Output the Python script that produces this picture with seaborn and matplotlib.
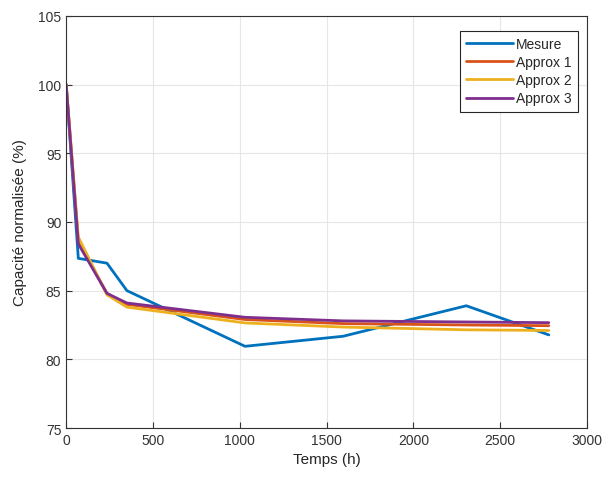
import pandas as pd
import seaborn as sns
import matplotlib.pyplot as plt

temps = [0, 70, 235, 350, 1030, 1595, 2305, 2780]
mesure = [100, 87.35, 87.0, 85.0, 80.95, 81.68, 83.9, 81.78]
approx1 = [100, 88.6, 84.8, 84.0, 82.9, 82.6, 82.5, 82.45]
approx2 = [100, 88.9, 84.7, 83.8, 82.65, 82.35, 82.15, 82.1]
approx3 = [100, 88.4, 84.8, 84.1, 83.06, 82.8, 82.72, 82.67]

series = {"Mesure": mesure, "Approx 1": approx1, "Approx 2": approx2, "Approx 3": approx3}
colors = ["#0072BD", "#D95319", "#EDB120", "#7E2F8E"]

df = pd.concat([pd.DataFrame({"Temps": temps, "val": v, "serie": k}) for k, v in series.items()])

sns.set_style("whitegrid")
plt.rcParams['font.family'] = ['Liberation Sans', 'DejaVu Sans']

fig = plt.figure(figsize=(6.07, 4.81), dpi=100)
ax = fig.add_axes([0.109, 0.108, 0.858, 0.857])
sns.lineplot(data=df, x="Temps", y="val", hue="serie", palette=colors, linewidth=2, ax=ax)

ax.set_xlim(0, 3000)
ax.set_ylim(75, 105)
ax.set_xticks(range(0, 3001, 500))
ax.set_yticks(range(75, 106, 5))
ax.set_xlabel("Temps (h)", fontsize=11)
ax.set_ylabel("Capacité normalisée (%)", fontsize=11, labelpad=8)
ax.tick_params(direction="in", length=4, labelsize=10, colors="#333333", left=True, bottom=True)
ax.grid(True, color="#e6e6e6", linewidth=0.8)
for s in ax.spines.values():
    s.set_color("#333333")
    s.set_linewidth(0.8)

leg = ax.legend(loc="upper right", bbox_to_anchor=(0.983, 0.964), borderaxespad=0, fontsize=10,
                frameon=True, fancybox=False, handlelength=3.4, borderpad=0.45, labelspacing=0.3,
                handletextpad=0.2)
leg.get_frame().set_edgecolor("#262626")
leg.get_frame().set_linewidth(0.8)
leg.get_frame().set_alpha(1)

fig.savefig("out.png", dpi=100)
